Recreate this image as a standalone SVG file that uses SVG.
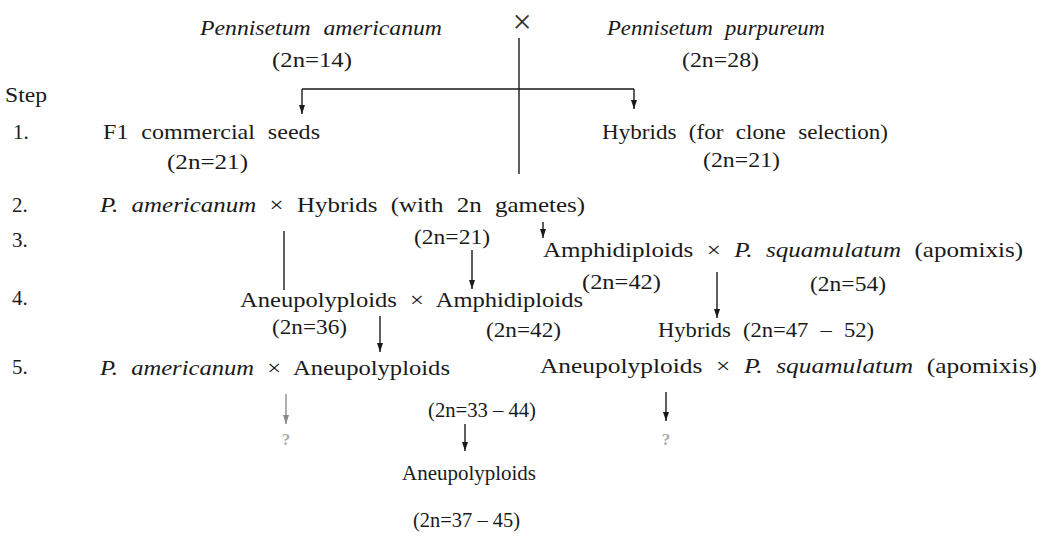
<svg xmlns="http://www.w3.org/2000/svg" width="1047" height="543" viewBox="0 0 1047 543">
<style>
text{font-family:"Liberation Serif","Times New Roman",serif;font-size:21px;fill:#1a1a1a;word-spacing:6px}
.i{font-style:italic}
.c{text-anchor:middle}
.ln{stroke:#1a1a1a;stroke-width:1.4;fill:none}
.ar{stroke:#1a1a1a;stroke-width:1.4;fill:none;marker-end:url(#ah)}
.fd{stroke:#9a9a9a;stroke-width:1.6;fill:none;marker-end:url(#ahf)}
.q{fill:#aaaaaa;font-size:17px;font-weight:bold}
</style>
<defs>
<marker id="ah" viewBox="0 0 9 6" refX="9" refY="3" markerWidth="9" markerHeight="6" markerUnits="userSpaceOnUse" orient="auto">
<path d="M0,0 L9,3 L0,6 z" fill="#1a1a1a"/>
</marker>
<marker id="ahf" viewBox="0 0 9 6" refX="9" refY="3" markerWidth="9" markerHeight="6" markerUnits="userSpaceOnUse" orient="auto">
<path d="M0,0 L9,3 L0,6 z" fill="#8a8a8a"/>
</marker>
</defs>
<rect width="1047" height="543" fill="#ffffff"/>

<g id="steps">
<text x="5" y="102" textLength="42" lengthAdjust="spacingAndGlyphs">Step</text>
<text x="13" y="139">1.</text>
<text x="12" y="212">2.</text>
<text x="12" y="247">3.</text>
<text x="12" y="305">4.</text>
<text x="12" y="374">5.</text>
</g>

<g id="parent-americanum">
<text x="200" y="35" class="i" textLength="242" lengthAdjust="spacingAndGlyphs">Pennisetum americanum</text>
<text x="272" y="67" textLength="80" lengthAdjust="spacingAndGlyphs">(2n=14)</text>
</g>
<g id="cross-sign">
<text x="522" y="33" class="c" style="font-size:34px;fill:#333">×</text>
</g>
<g id="parent-purpureum">
<text x="607" y="35" class="i" textLength="218" lengthAdjust="spacingAndGlyphs">Pennisetum purpureum</text>
<text x="682" y="67" textLength="77" lengthAdjust="spacingAndGlyphs">(2n=28)</text>
</g>

<g id="f1-seeds">
<text x="103" y="139" textLength="217" lengthAdjust="spacingAndGlyphs">F1 commercial seeds</text>
<text x="167" y="169" textLength="81" lengthAdjust="spacingAndGlyphs">(2n=21)</text>
</g>
<g id="hybrids-clone">
<text x="602" y="139" textLength="286" lengthAdjust="spacingAndGlyphs">Hybrids (for clone selection)</text>
<text x="703" y="167" textLength="77" lengthAdjust="spacingAndGlyphs">(2n=21)</text>
</g>

<g id="step2-cross">
<text x="100" y="212" textLength="485" lengthAdjust="spacingAndGlyphs"><tspan class="i">P. americanum</tspan> × Hybrids (with 2n gametes)</text>
<text x="414" y="244" textLength="76" lengthAdjust="spacingAndGlyphs">(2n=21)</text>
</g>

<g id="step3-cross">
<text x="543" y="257" textLength="480" lengthAdjust="spacingAndGlyphs">Amphidiploids × <tspan class="i">P. squamulatum</tspan> (apomixis)</text>
<text x="582" y="289" textLength="79" lengthAdjust="spacingAndGlyphs">(2n=42)</text>
<text x="810" y="291" textLength="76" lengthAdjust="spacingAndGlyphs">(2n=54)</text>
</g>

<g id="step4-cross">
<text x="240" y="307" textLength="343" lengthAdjust="spacingAndGlyphs">Aneupolyploids × Amphidiploids</text>
<text x="272" y="334" textLength="75" lengthAdjust="spacingAndGlyphs">(2n=36)</text>
<text x="486" y="337" textLength="75" lengthAdjust="spacingAndGlyphs">(2n=42)</text>
</g>

<g id="hybrids-47-52">
<text x="658" y="337" textLength="216" lengthAdjust="spacingAndGlyphs">Hybrids (2n=47 – 52)</text>
</g>

<g id="step5-left">
<text x="100" y="375" textLength="350" lengthAdjust="spacingAndGlyphs"><tspan class="i">P. americanum</tspan> × Aneupolyploids</text>
<text x="428" y="417" style="word-spacing:0" textLength="108" lengthAdjust="spacingAndGlyphs">(2n=33 – 44)</text>
</g>

<g id="step5-right">
<text x="540" y="373" textLength="497" lengthAdjust="spacingAndGlyphs">Aneupolyploids × <tspan class="i">P. squamulatum</tspan> (apomixis)</text>
</g>

<g id="aneupolyploids-final">
<text x="402" y="480" textLength="134" lengthAdjust="spacingAndGlyphs">Aneupolyploids</text>
<text x="413" y="527" style="word-spacing:0" textLength="107" lengthAdjust="spacingAndGlyphs">(2n=37 – 45)</text>
</g>

<g id="unknown-left"><text x="286" y="445" class="q c">?</text></g>
<g id="unknown-right"><text x="666" y="445" class="q c">?</text></g>

<g id="connectors">
<line x1="302" y1="89" x2="634" y2="89" class="ln"/>
<line x1="519" y1="38" x2="519" y2="174" class="ln"/>
<line x1="302" y1="89" x2="302" y2="114" class="ar"/>
<line x1="634" y1="89" x2="634" y2="109" class="ar"/>
<line x1="543" y1="222" x2="543" y2="238" class="ar"/>
<line x1="284" y1="231" x2="284" y2="290" class="ln"/>
<line x1="472" y1="250" x2="472" y2="289" class="ar"/>
<line x1="717" y1="272" x2="717" y2="318" class="ar"/>
<line x1="380" y1="316" x2="380" y2="352" class="ar"/>
<line x1="286" y1="394" x2="286" y2="424" class="fd"/>
<line x1="465" y1="424" x2="465" y2="451" class="ar"/>
<line x1="666" y1="392" x2="666" y2="421" class="ar"/>
</g>
</svg>
